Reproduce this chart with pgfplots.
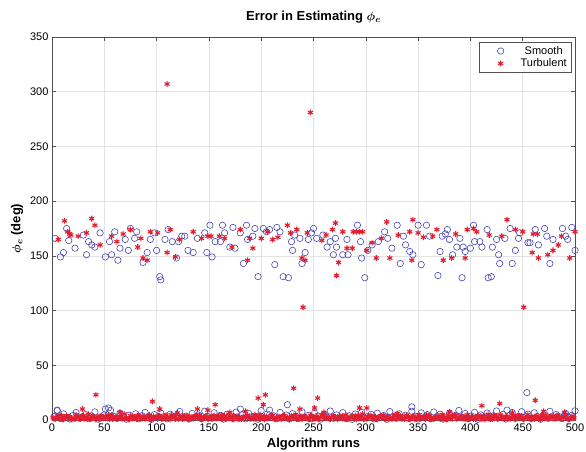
\documentclass[border=0pt]{standalone}
\usepackage{fontspec}
\setmainfont{Liberation Sans}
\usepackage{amsmath}
\usepackage{pgfplots}
\pgfplotsset{compat=1.18}
\definecolor{smoothc}{RGB}{70,70,180}
\definecolor{turbc}{RGB}{225,30,48}
\definecolor{axc}{RGB}{80,80,80}
\pgfplotsset{mylegimg/.style={legend image code/.code={\path[draw=none,fill=none] (0pt,-3pt) rectangle (36pt,3pt);\draw[##1] plot coordinates {(18pt,0pt)};}}}
\begin{document}
\begin{tikzpicture}
\begin{axis}[
  scale only axis, width=523pt, height=383pt,
  xmin=0, xmax=500, ymin=0, ymax=350,
  xtick={0,50,...,500}, ytick={0,50,...,350},
  grid=major, major grid style={gray!22, line width=0.5pt},
  tick align=inside, major tick length=4pt,
  axis line style={axc, line width=0.8pt},
  tick style={axc, line width=0.6pt},
  /pgf/number format/assume math mode=true,
  ticklabel style={font=\fontsize{11}{13}\selectfont},
  clip=false,
  title={Error in Estimating $\phi_e$},
  title style={font=\bfseries\boldmath\fontsize{13}{15}\selectfont, yshift=4pt},
  xlabel={Algorithm runs},
  ylabel={$\phi_e$ (deg)},
  label style={font=\bfseries\boldmath\fontsize{13}{15}\selectfont},
  legend style={at={(axis description cs:0.9943,0.987)}, anchor=north east,
    draw=axc, line width=0.6pt, font=\fontsize{11}{13}\selectfont,
    inner xsep=3pt, inner ysep=2pt, row sep=-1pt},
]
% ---------------- Smooth ----------------
\addplot[only marks, mark=o, mark size=3.2pt, color=smoothc, mark options={line width=0.6pt}, mylegimg] coordinates {
(3,166)(8,149)(11,153)(14,175)(16,164)(22,157)(30,169)(33,151)(35,163)(38,160)(41,158)(46,171)(51,149)(55,163)(57,151)(60,172)(63,146)(65,157)(70,165)(73,155)(75,175)(79,166)(81,172)(87,144)(91,153)(94,165)(98,171)(100,155)(103,131)(104,128)(108,165)(111,174)(115,163)(119,148)(121,163)(124,168)
(127,168)(130,155)(135,153)(139,166)(146,171)(148,153)(151,178)(153,149)(156,163)(161,163)(163,178)(165,171)(170,158)(173,176)(175,157)(180,171)(183,143)(186,178)(187,165)(192,168)(194,175)(197,131)(202,175)(205,172)(208,174)(213,142)(215,176)(218,172)(221,131)(226,130)(229,163)(230,155)(232,169)(237,166)(239,143)(242,153)(245,165)(248,171)
(250,175)(253,166)(259,169)(263,158)(266,163)(269,151)(271,166)(272,158)(278,151)(282,165)(283,151)(292,178)(295,163)(296,148)(299,130)(302,155)(306,160)(312,163)(318,172)(321,166)(325,157)(330,178)(333,143)(336,168)(338,160)(342,154)(345,151)(350,178)(353,142)(358,178)(361,168)(369,132)(371,154)(373,168)
(376,170)(378,174)(380,165)(383,151)(387,158)(390,166)(393,158)(395,154)(392,130)(400,157)(403,178)(404,163)(409,163)(411,158)(416,174)(417,130)(420,131)(421,158)(425,165)(427,151)(428,143)(433,166)(438,175)(440,143)(443,155)(446,166)(447,171)(455,162)(457,162)(462,174)(465,160)(471,175)(473,168)(476,143)(479,165)(488,175)(491,168)(493,165)(497,176)(500,155)
(5,9)(51,10)(54,11)(180,10)(208,9)(225,14)(344,12)(435,9)(454,25)
(2,3.2)(5,8.5)(8,1.4)(11,5.6)(14,2.3)(17,0.9)(20,4.1)(23,6.8)(26,1.7)(29,2.9)
(32,5.0)(35,1.2)(38,3.6)(41,7.4)(44,0.8)(47,2.5)(50,4.7)(53,1.9)(56,8.9)(59,3.3)
(62,1.5)(65,6.1)(68,2.8)(71,0.7)(74,4.4)(77,2.0)(80,5.7)(83,1.1)(86,3.9)(89,7.0)
(92,2.6)(95,0.6)(98,4.9)(101,1.8)(104,6.4)(107,3.0)(110,1.0)(113,5.3)(116,2.2)(119,4.0)
(122,7.8)(125,1.6)(128,3.5)(131,0.9)(134,5.9)(137,2.7)(140,4.6)(143,1.3)(146,8.1)(149,3.1)
(152,1.9)(155,6.6)(158,2.4)(161,4.3)(164,0.8)(167,5.1)(170,3.7)(173,1.4)(176,7.2)(179,2.1)
(182,4.8)(185,1.0)(188,6.0)(191,2.9)(194,3.4)(197,0.7)(200,8.6)(203,1.8)(206,5.4)(209,2.6)
(212,3.8)(215,1.2)(218,6.9)(221,2.0)(224,4.5)(227,0.9)(230,5.8)(233,3.2)(236,1.5)(239,7.5)
(242,2.3)(245,4.2)(248,1.1)(251,6.3)(254,3.6)(257,0.8)(260,5.0)(263,2.7)(266,8.2)(269,1.6)
(272,4.7)(275,2.1)(278,6.7)(281,1.3)(284,3.9)(287,0.6)(290,5.5)(293,2.8)(296,7.1)(299,1.9)
(302,3.3)(305,5.2)(308,1.0)(311,6.2)(314,2.5)(317,4.1)(320,0.7)(323,7.7)(326,3.0)(329,1.7)
(332,5.6)(335,2.2)(338,4.4)(341,1.4)(344,8.0)(347,3.5)(350,0.9)(353,6.5)(356,2.0)(359,4.9)
(362,1.2)(365,7.3)(368,3.1)(371,5.3)(374,0.8)(377,2.7)(380,6.1)(383,1.8)(386,4.3)(389,8.7)
(392,2.4)(395,5.9)(398,1.1)(401,3.7)(404,7.0)(407,0.6)(410,4.6)(413,2.9)(416,6.4)(419,1.5)
(422,3.8)(425,8.3)(428,2.2)(431,5.1)(434,0.9)(437,4.0)(440,6.8)(443,1.6)(446,3.4)(449,7.6)
(452,2.0)(455,5.4)(458,1.3)(461,6.6)(464,3.2)(467,0.7)(470,4.8)(473,2.6)(476,7.9)(479,1.9)
(482,5.0)(485,3.0)(488,1.4)(491,6.0)(494,2.5)(497,4.2)(500,8.4)
};
\addlegendentry{Smooth}
% ---------------- Turbulent ----------------
\addplot[only marks, mark=asterisk, mark size=2.9pt, color=turbc, mark options={line width=1.1pt}, mylegimg] coordinates {
(6,165)(12,182)(15,172)(17,170)(18,169)(25,168)(33,171)(38,184)(41,178)(46,160)(57,168)(62,163)(68,170)(75,174)(82,158)(85,166)(87,148)(91,146)(94,172)(101,171)(110,153)(113,174)(118,149)(122,165)
(135,172)(143,166)(149,168)(152,168)(160,168)(165,166)(172,158)(180,174)(187,146)(189,166)(192,157)(200,166)(206,172)(211,165)(216,167)(225,178)(228,171)(234,174)(239,148)(242,146)(244,171)
(258,164)(262,169)(268,174)(271,180)(272,132)(274,144)(278,172)(282,157)(287,157)(288,172)(291,172)(294,172)(297,172)(301,155)(306,162)(310,148)(315,166)(320,181)(323,148)(331,169)(342,172)(344,146)(345,183)(350,171)(355,167)(364,168)(368,174)
(374,146)(382,148)(386,170)(395,148)(397,174)(403,175)(406,172)(418,169)(430,168)(435,183)(443,174)(450,172)(459,153)(460,170)(464,170)(465,148)(474,151)(479,155)(484,160)(487,168)(495,148)(500,172)
(110,307)(247,281)(240,103)(451,103)
(42,23)(96,17)(156,14)(197,20)(204,23)(202,14)(231,29)(254,20)(251,11)(428,15)(462,18)(411,13)
(29,10)(103,10)(139,10)(149,9)(237,10)(294,11)(301,11)
(65,7)(120,6.5)(170,7)(185,8)(260,7)(330,6)(380,7.5)(440,6.5)(470,8)(490,7)
(1,2.1)(3,0.8)(5,3.5)(7,1.4)(9,4.2)(11,0.5)(13,2.7)(15,1.9)(17,3.1)(19,0.3)
(21,1.6)(23,4.8)(25,2.3)(27,0.9)(29,3.7)(31,1.1)(33,2.5)(35,5.2)(37,0.7)(39,3.3)
(41,1.8)(43,2.9)(45,0.4)(47,4.1)(49,1.3)(51,3.6)(53,2.2)(55,0.6)(57,4.5)(59,1.7)
(61,3.0)(63,0.9)(65,2.6)(67,1.2)(69,5.5)(71,2.0)(73,0.5)(75,3.8)(77,1.5)(79,2.8)
(81,0.8)(83,4.3)(85,1.9)(87,3.2)(89,0.6)(91,2.4)(93,4.7)(95,1.0)(97,3.4)(99,2.1)
(101,1.3)(103,3.9)(105,0.7)(107,2.6)(109,4.4)(111,1.6)(113,0.4)(115,3.0)(117,2.3)(119,5.0)
(121,0.9)(123,2.0)(125,3.6)(127,1.4)(129,4.0)(131,0.6)(133,2.8)(135,1.1)(137,3.3)(139,1.8)
(141,4.6)(143,0.5)(145,2.2)(147,3.7)(149,1.0)(151,2.9)(153,0.8)(155,4.1)(157,1.5)(159,3.4)
(161,2.4)(163,0.7)(165,3.9)(167,1.2)(169,5.3)(171,1.9)(173,0.4)(175,2.7)(177,3.5)(179,1.1)
(181,0.6)(183,3.1)(185,2.0)(187,4.4)(189,1.4)(191,2.6)(193,0.9)(195,3.8)(197,1.7)(199,4.9)
(201,2.3)(203,0.5)(205,3.4)(207,1.6)(209,2.8)(211,4.2)(213,0.8)(215,1.9)(217,3.0)(219,0.4)
(221,4.0)(223,1.3)(225,2.5)(227,0.7)(229,3.7)(231,2.1)(233,5.1)(235,1.0)(237,2.9)(239,0.6)
(241,3.5)(243,1.8)(245,0.9)(247,4.3)(249,2.2)(251,1.2)(253,3.2)(255,0.5)(257,2.6)(259,4.7)
(261,1.5)(263,3.0)(265,0.8)(267,2.4)(269,4.1)(271,1.7)(273,0.6)(275,3.6)(277,2.0)(279,1.1)
(281,4.5)(283,0.9)(285,2.7)(287,3.3)(289,1.4)(291,0.5)(293,3.9)(295,2.2)(297,5.4)(299,1.6)
(301,0.7)(303,2.9)(305,4.0)(307,1.2)(309,3.1)(311,0.4)(313,2.5)(315,1.8)(317,4.6)(319,0.9)
(321,3.4)(323,2.0)(325,1.0)(327,4.2)(329,0.6)(331,2.8)(333,3.7)(335,1.5)(337,0.8)(339,4.4)
(341,2.3)(343,1.1)(345,3.5)(347,0.5)(349,2.6)(351,4.8)(353,1.3)(355,3.0)(357,0.7)(359,2.1)
(361,4.1)(363,1.6)(365,0.9)(367,3.3)(369,2.4)(371,1.0)(373,5.0)(375,2.7)(377,0.5)(379,3.8)
(381,1.4)(383,2.9)(385,4.3)(387,0.8)(389,2.0)(391,3.6)(393,1.2)(395,0.6)(397,4.7)(399,2.2)
(401,3.1)(403,0.9)(405,1.7)(407,4.0)(409,2.5)(411,0.4)(413,3.4)(415,1.9)(417,5.2)(419,1.1)
(421,0.7)(423,2.8)(425,3.9)(427,1.3)(429,4.5)(431,2.1)(433,0.6)(435,3.2)(437,1.6)(439,2.4)
(441,4.2)(443,0.8)(445,2.6)(447,1.4)(449,3.7)(451,0.5)(453,2.0)(455,4.9)(457,1.8)(459,3.0)
(461,1.0)(463,3.5)(465,2.3)(467,0.7)(469,4.4)(471,1.5)(473,2.9)(475,0.9)(477,3.8)(479,2.2)
(481,0.6)(483,4.0)(485,1.7)(487,3.1)(489,2.4)(491,5.1)(493,1.2)(495,0.8)(497,3.6)(499,2.0)
(2,1.2)(6,2.9)(10,0.6)(14,3.8)(18,1.7)(22,0.9)(26,2.4)(30,4.1)(34,1.0)(38,2.7)
(42,0.5)(46,3.2)(50,1.9)(54,4.4)(58,0.8)(62,2.2)(66,3.5)(70,1.3)(74,0.7)(78,2.6)
(82,4.0)(86,1.5)(90,3.0)(94,0.4)(98,2.0)(102,3.7)(106,1.1)(110,2.5)(114,4.6)(118,0.9)
(122,3.1)(126,1.8)(130,0.6)(134,2.8)(138,4.2)(142,1.4)(146,2.3)(150,0.7)(154,3.4)(158,1.6)
(162,4.8)(166,1.0)(170,2.6)(174,3.9)(178,0.5)(182,2.1)(186,3.3)(190,1.2)(194,4.5)(198,0.8)
(202,2.9)(206,1.5)(210,3.6)(214,0.6)(218,2.4)(222,4.0)(226,1.1)(230,2.7)(234,0.9)(238,3.5)
(242,1.9)(246,0.5)(250,3.0)(254,1.3)(258,4.3)(262,2.2)(266,0.7)(270,2.8)(274,1.6)(278,3.8)
(282,0.9)(286,2.5)(290,4.1)(294,1.4)(298,0.6)(302,3.2)(306,2.0)(310,1.0)(314,3.9)(318,1.7)
(322,0.5)(326,2.6)(330,4.4)(334,1.2)(338,2.9)(342,0.8)(346,3.6)(350,1.5)(354,2.3)(358,4.7)
(362,0.7)(366,2.1)(370,3.4)(374,1.1)(378,0.6)(382,2.8)(386,4.0)(390,1.6)(394,3.1)(398,0.9)
(402,2.4)(406,1.3)(410,3.7)(414,0.5)(418,2.0)(422,4.2)(426,1.0)(430,2.7)(434,3.3)(438,0.8)
(442,1.8)(446,3.9)(450,1.2)(454,2.5)(458,0.6)(462,3.0)(466,1.5)(470,4.5)(474,0.9)(478,2.2)
(482,3.6)(486,1.1)(490,2.9)(494,0.7)(498,1.9)
};
\addlegendentry{Turbulent}
\end{axis}
\pgfresetboundingbox
\path[use as bounding box] ([xshift=-52pt,yshift=-32pt]current axis.south west) rectangle ([xshift=11pt,yshift=37pt]current axis.north east);
\end{tikzpicture}
\end{document}
